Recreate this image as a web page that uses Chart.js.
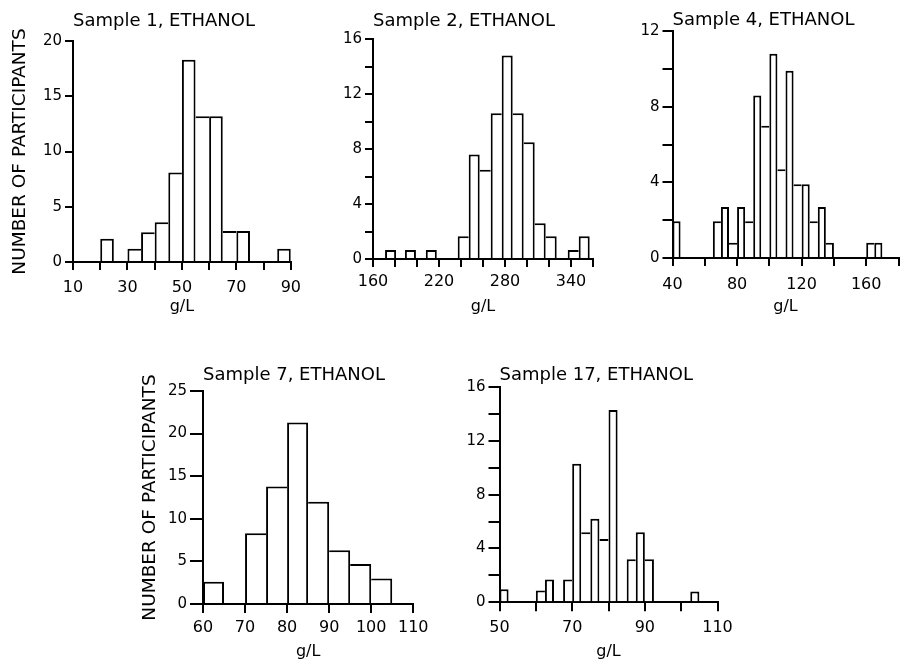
<!DOCTYPE html>
<html>
<head>
<meta charset="utf-8">
<script src="https://cdn.jsdelivr.net/npm/chart.js@4.4.1/dist/chart.umd.min.js"></script>
<style>
html, body { margin: 0; padding: 0; background: #fff; overflow: hidden; width: 908px; height: 659px; }
canvas { position: absolute; }
</style>
</head>
<body>
<canvas id="c1" width="309" height="316" style="left:0px;top:0px"></canvas>
<canvas id="c2" width="288" height="316" style="left:310px;top:0px"></canvas>
<canvas id="c3" width="308" height="316" style="left:600px;top:0px"></canvas>
<canvas id="c4" width="304" height="331" style="left:130px;top:330px"></canvas>
<canvas id="c5" width="300" height="331" style="left:440px;top:330px"></canvas>
<script>
// ---------- DATA (bin centres in g/L, number of participants) ----------
// Sample 1
const s1Title = "Sample 1, ETHANOL";
const s1Bins = [22.5, 32.5, 37.5, 42.5, 47.5, 52.5, 57.5, 62.5, 67.5, 72.5, 87.5];
const s1Counts = [2.1, 1.2, 2.7, 3.6, 8.1, 18.3, 13.2, 13.2, 2.8, 2.8, 1.2];
const s1BinWidth = 5;
const s1XLabels = [10, 30, 50, 70, 90];
const s1YLabels = [0, 5, 10, 15, 20];

// Sample 2
const s2Title = "Sample 2, ETHANOL";
const s2Bins = [176, 194, 213, 242, 252, 262, 272, 282, 292, 302, 312, 322, 342, 352];
const s2Counts = [0.65, 0.65, 0.65, 1.65, 7.6, 6.5, 10.6, 14.8, 10.6, 8.5, 2.6, 1.65, 0.65, 1.65];
const s2BinWidth = 10;
const s2XLabels = [160, 220, 280, 340];
const s2YLabels = [0, 4, 8, 12, 16];

// Sample 4
const s4Title = "Sample 4, ETHANOL";
const s4Bins = [42.5, 67.5, 72.5, 77.5, 82.5, 87.5, 92.5, 97.5, 102.5, 107.5, 112.5, 117.5, 122.5, 127.5, 132.5, 137.5, 162.5, 167.5];
const s4Counts = [1.95, 1.95, 2.7, 0.8, 2.7, 1.95, 8.6, 7.0, 10.8, 4.7, 9.9, 3.9, 3.9, 1.95, 2.7, 0.8, 0.8, 0.8];
const s4BinWidth = 5;
const s4XLabels = [40, 80, 120, 160];
const s4YLabels = [0, 4, 8, 12];

// Sample 7
const s7Title = "Sample 7, ETHANOL";
const s7Bins = [62.5, 72.5, 77.5, 82.5, 87.5, 92.5, 97.5, 102.5];
const s7Counts = [2.6, 8.3, 13.8, 21.3, 12.0, 6.3, 4.7, 3.0];
const s7BinWidth = 5;
const s7XLabels = [60, 70, 80, 90, 100, 110];
const s7YLabels = [0, 5, 10, 15, 20, 25];

// Sample 17
const s17Title = "Sample 17, ETHANOL";
const s17Bins = [51.25, 61.25, 63.75, 68.75, 71.25, 73.75, 76.25, 78.75, 81.25, 86.25, 88.75, 91.25, 103.75];
const s17Counts = [0.97, 0.87, 1.7, 1.7, 10.3, 5.2, 6.2, 4.7, 14.3, 3.2, 5.2, 3.2, 0.8];
const s17BinWidth = 2.5;
const s17XLabels = [50, 70, 90, 110];
const s17YLabels = [0, 4, 8, 12, 16];

const yAxisTitle = "NUMBER OF PARTICIPANTS";
const xAxisTitle = "g/L";

// ---------- DRAWING ----------
Chart.defaults.font.family = "'DejaVu Sans', sans-serif";
Chart.defaults.color = '#000';

function makePanel(id, title, bins, counts, binWidth, xr, xLabels, yr, yLabels, g) {
  const data = bins.map((b, i) => ({ x: b, y: counts[i] }));
  const adj = (a, b) => Math.abs(Math.abs(a - b) - binWidth) < 1e-6;
  new Chart(document.getElementById(id), {
    type: 'bar',
    data: {
      datasets: [{
        data: data,
        backgroundColor: '#fff',
        borderColor: '#000',
        // a shared edge between two adjacent bins is drawn once, by the taller bin
        borderWidth: (ctx) => {
          const i = ctx.dataIndex;
          const d = ctx.dataset.data;
          if (i === undefined || !d[i]) return 2;
          const hasL = i > 0 && adj(d[i].x, d[i - 1].x);
          const hasR = i < d.length - 1 && adj(d[i + 1].x, d[i].x);
          const left = (!hasL || d[i - 1].y <= d[i].y) ? 2 : 0;
          const right = (!hasR || d[i + 1].y < d[i].y) ? 2 : 0;
          return { top: 2, left: left, right: right, bottom: 0 };
        },
        borderSkipped: 'start',
        barPercentage: 1,
        categoryPercentage: 1,
        inflateAmount: 0
      }]
    },
    options: {
      responsive: false,
      animation: false,
      events: [],
      devicePixelRatio: 1,
      layout: { padding: { left: 0, right: g.padRight, top: 0, bottom: 0 } },
      plugins: {
        legend: { display: false },
        tooltip: { enabled: false },
        title: {
          display: true,
          text: title,
          align: 'start',
          fullSize: false,
          color: '#000',
          font: { size: 18, weight: 'normal', lineHeight: 1.2 },
          padding: { top: g.tTop, bottom: g.tBottom }
        }
      },
      scales: {
        x: {
          type: 'linear',
          min: xr[0], max: xr[1],
          offset: false,
          z: 1,
          afterFit: (s) => { s.height = g.xH; },
          border: { display: true, color: '#000', width: 2 },
          grid: { display: true, offset: false, drawOnChartArea: false, drawTicks: true,
                  tickLength: g.xTL, color: '#000', tickColor: '#000', tickWidth: 2, lineWidth: 2 },
          ticks: {
            stepSize: xr[2],
            autoSkip: false, maxRotation: 0, minRotation: 0,
            padding: g.xTP,
            color: '#000',
            font: { size: 16 },
            callback: (v) => xLabels.includes(v) ? String(v) : ''
          },
          title: { display: true, text: xAxisTitle, color: '#000',
                   font: { size: 16 }, padding: { top: 0, bottom: 0 } }
        },
        y: {
          type: 'linear',
          min: yr[0], max: yr[1],
          z: 1,
          afterFit: (s) => { s.width = g.yW; },
          border: { display: true, color: '#000', width: 2 },
          grid: { display: true, drawOnChartArea: false, drawTicks: true,
                  tickLength: g.yTL, color: '#000', tickColor: '#000', tickWidth: 2, lineWidth: 2 },
          ticks: {
            stepSize: yr[2],
            autoSkip: false,
            padding: 3,
            color: '#000',
            font: { size: 15 },
            callback: (v) => yLabels.includes(v) ? String(v) : ''
          },
          title: { display: g.yTitle, text: yAxisTitle, color: '#000',
                   font: { size: 18.5 }, padding: { top: 8.9, bottom: 0 } }
        }
      }
    }
  });
}

makePanel('c1', s1Title, s1Bins, s1Counts, s1BinWidth, [10, 90, 10], s1XLabels, [0, 20, 5], s1YLabels,
  { padRight: 12, tTop: 11, tBottom: 8.4, xH: 54, xTL: 8, xTP: 8, yW: 73, yTL: 8, yTitle: true });
makePanel('c2', s2Title, s2Bins, s2Counts, s2BinWidth, [160, 360, 20], s2XLabels, [0, 16, 2], s2YLabels,
  { padRight: 4, tTop: 10.2, tBottom: 7.2, xH: 57, xTL: 8, xTP: 5, yW: 63, yTL: 8, yTitle: false });
makePanel('c3', s4Title, s4Bins, s4Counts, s4BinWidth, [40, 180, 20], s4XLabels, [0, 12, 2], s4YLabels,
  { padRight: 0, tTop: 9.5, tBottom: 0, xH: 58, xTL: 8, xTP: 9.5, yW: 72.5, yTL: 10, yTitle: false });
makePanel('c4', s7Title, s7Bins, s7Counts, s7BinWidth, [60, 110, 10], s7XLabels, [0, 25, 5], s7YLabels,
  { padRight: 16, tTop: 34.2, tBottom: 5.2, xH: 57, xTL: 9, xTP: 5.5, yW: 73, yTL: 13, yTitle: true });
makePanel('c5', s17Title, s17Bins, s17Counts, s17BinWidth, [50, 110, 10], s17XLabels, [0, 16, 2], s17YLabels,
  { padRight: 16, tTop: 34.2, tBottom: 1.2, xH: 58.7, xTL: 9, xTP: 7.2, yW: 59.5, yTL: 11, yTitle: false });
</script>
</body>
</html>
